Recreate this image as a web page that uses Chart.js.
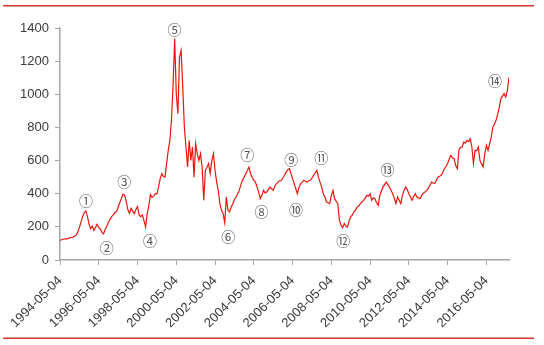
<!DOCTYPE html>
<html>
<head>
<meta charset="utf-8">
<script src="https://cdn.jsdelivr.net/npm/chart.js@4/dist/chart.umd.min.js"></script>
<style>
  html, body { margin: 0; padding: 0; background: #ffffff; }
  #wrap { width: 544px; height: 345px; position: relative; }
</style>
</head>
<body>
<div id="wrap"><canvas id="c" width="544" height="345"></canvas></div>
<script>
// Monthly index closes, starting 1994-05 (one row per year, May..April)
const monthlyClose = [
  118,122,125,128,126,131,133,136,138,143,150,169,
  195,229,262,285,296,262,215,189,205,179,198,215,
  196,188,165,158,185,205,228,245,262,272,285,292,
  318,345,372,398,392,355,305,282,312,295,280,305,
  322,270,262,272,238,199,280,330,395,378,385,402,
  398,440,490,521,505,500,582,660,720,843,1050,1336,
  1000,883,1225,1265,1044,802,682,561,722,601,682,500,
  702,640,601,642,560,360,541,560,582,521,600,642,
  540,470,420,340,300,280,225,380,300,290,320,340,
  365,380,400,420,455,481,500,521,540,561,520,500,
  481,470,440,410,370,390,420,405,410,425,440,430,
  420,445,460,470,478,481,495,511,530,545,551,521,
  490,461,430,400,440,461,470,481,475,470,478,481,
  495,511,525,541,500,470,440,400,380,350,345,340,
  390,420,370,355,340,240,210,195,220,205,199,235,
  260,272,290,300,320,325,340,350,360,375,390,385,
  400,360,375,370,345,330,390,415,440,455,470,455,
  440,420,400,370,340,380,360,340,390,420,440,425,
  400,380,360,385,400,380,375,370,390,405,410,420,
  431,450,470,465,461,480,500,505,511,530,551,565,
  582,610,632,615,612,570,551,662,680,682,712,705,
  722,715,732,682,582,662,660,682,601,580,561,642,
  692,662,700,742,802,820,843,880,923,974,990,1004,
  984,1024,1104
];

// Axis tick labels, every 24 months from the first observation
const tickLabels = [
  '1994-05-04','1996-05-04','1998-05-04','2000-05-04','2002-05-04','2004-05-04',
  '2006-05-04','2008-05-04','2010-05-04','2012-05-04','2014-05-04','2016-05-04'
];
const yTicks = [0, 200, 400, 600, 800, 1000, 1200, 1400];

// Circled markers for the turning points (month index, index level)
const markerLabels = ['①','②','③','④','⑤','⑥','⑦','⑧','⑨','⑩','⑪','⑫','⑬','⑭'];
const markerMonths = [16.1, 28.9, 39.8, 55.8, 70.9, 104.1, 115.9, 124.8, 143.2, 146.1, 161.8, 175.4, 202.7, 269.3];
const markerValues = [356, 72, 473, 119, 1392, 139, 638, 290, 603, 302, 617, 119, 546, 1080];

const points = monthlyClose.map((v, i) => ({ x: i, y: v }));

const tickFont = { family: "'Liberation Sans', Arial, sans-serif", size: 13 };
const axisGray = '#a6a6a6';
const textGray = '#3a3a3a';

const markerPlugin = {
  id: 'markers',
  afterDatasetsDraw(chart) {
    const { ctx, scales: { x, y } } = chart;
    ctx.save();
    ctx.fillStyle = '#555555';
    ctx.font = "14px 'Noto Sans CJK SC', 'DejaVu Sans', sans-serif";
    ctx.textAlign = 'center';
    ctx.textBaseline = 'middle';
    markerLabels.forEach((t, i) => {
      ctx.fillText(t, x.getPixelForValue(markerMonths[i]), y.getPixelForValue(markerValues[i]));
    });
    ctx.restore();
  }
};

const framePlugin = {
  id: 'frame',
  beforeDraw(chart) {
    const { ctx, width, height } = chart;
    ctx.save();
    ctx.fillStyle = '#ffffff';
    ctx.fillRect(0, 0, width, height);
    ctx.restore();
  },
  afterDraw(chart) {
    const { ctx } = chart;
    ctx.save();
    ctx.strokeStyle = '#d9302a';
    ctx.lineWidth = 1.6;
    ctx.beginPath();
    ctx.moveTo(3, 5.8); ctx.lineTo(534, 5.8);
    ctx.moveTo(3, 338.2); ctx.lineTo(534, 338.2);
    ctx.stroke();
    ctx.restore();
  }
};

new Chart(document.getElementById('c'), {
  type: 'line',
  data: {
    datasets: [{
      data: points,
      borderColor: '#e8160c',
      borderWidth: 1.2,
      pointRadius: 0,
      tension: 0,
      fill: false
    }]
  },
  options: {
    responsive: false,
    animation: false,
    layout: { padding: { top: 28, right: 35, left: 0, bottom: 0 } },
    plugins: { legend: { display: false }, tooltip: { enabled: false } },
    scales: {
      x: {
        type: 'linear',
        min: 0,
        max: 278,
        afterBuildTicks(scale) {
          scale.ticks = tickLabels.map((_, i) => ({ value: i * 24 }));
        },
        afterFit(scale) { scale.height = 85; },
        ticks: {
          autoSkip: false,
          minRotation: 45,
          maxRotation: 45,
          color: textGray,
          font: tickFont,
          padding: 8,
          callback(value) {
            const i = Math.round(value / 24);
            return tickLabels[i];
          }
        },
        grid: { drawOnChartArea: false, drawTicks: true, tickLength: 5, color: axisGray },
        border: { display: true, color: axisGray, width: 1.5 }
      },
      y: {
        min: 0,
        max: 1400,
        afterBuildTicks(scale) {
          scale.ticks = yTicks.map(v => ({ value: v }));
        },
        afterFit(scale) { scale.width = 60; },
        ticks: {
          color: textGray,
          font: tickFont,
          padding: 6,
          callback(value) { return String(value); }
        },
        grid: { drawOnChartArea: false, drawTicks: true, tickLength: 5, color: axisGray },
        border: { display: true, color: axisGray, width: 1.5 }
      }
    }
  },
  plugins: [framePlugin, markerPlugin]
});
</script>
</body>
</html>
